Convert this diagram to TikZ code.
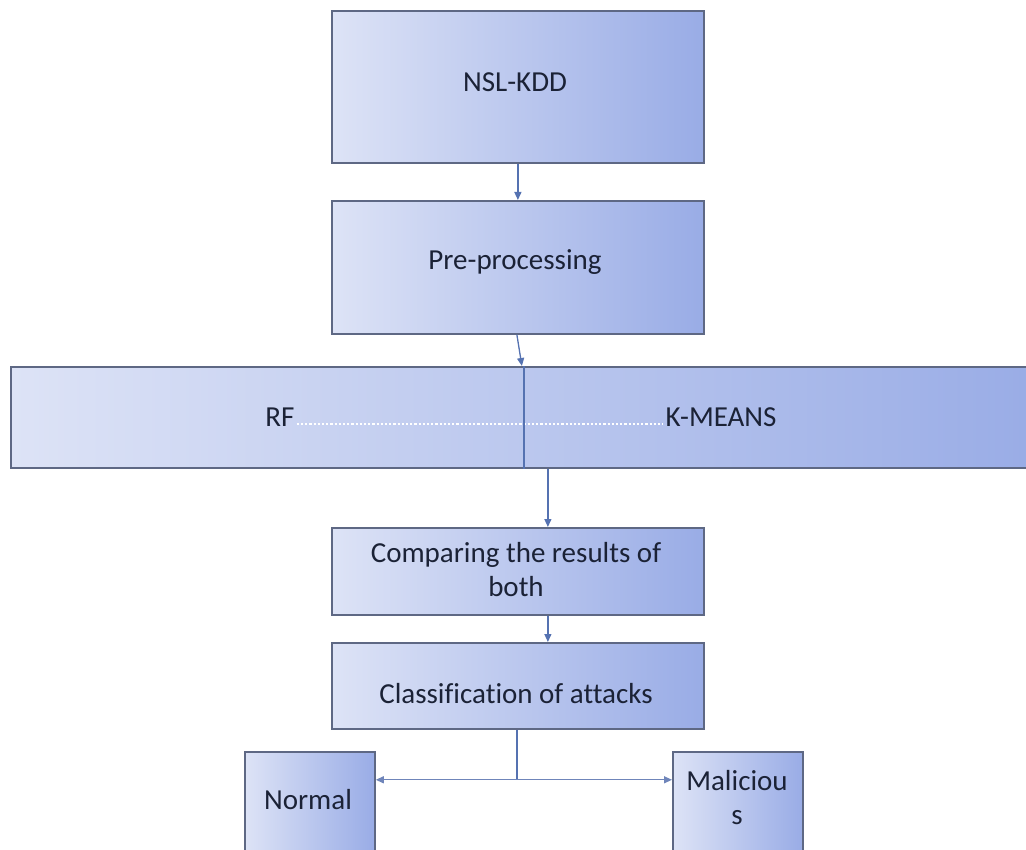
\documentclass[tikz,border=0pt]{standalone}
\usepackage{fontspec}
\setmainfont{Carlito}[Ligatures=NoCommon]
\usetikzlibrary{arrows.meta}
\definecolor{fillL}{HTML}{DDE3F6}
\definecolor{fillR}{HTML}{99ACE6}
\definecolor{frame}{HTML}{5E6884}
\definecolor{flowc}{HTML}{5572B1}
\definecolor{forkc}{HTML}{6F85BA}
\definecolor{ink}{HTML}{1B2236}

\begin{document}
\begin{tikzpicture}[x=1pt,y=-1pt,
  box/.style={draw=frame, line width=1.8pt, left color=fillL, right color=fillR,
    anchor=north west, inner sep=0pt},
  lbl/.style={anchor=base, inner sep=0pt, text=ink,
    font=\fontsize{29}{34.5}\selectfont, align=center},
  flow/.style={draw=flowc, line width=1.3pt, -{Triangle[length=8pt,width=7pt]}},
  plain/.style={draw=flowc, line width=1.3pt},
  fork/.style={draw=forkc, line width=1.3pt, -{Triangle[length=8pt,width=7pt]}},
]
\useasboundingbox (0,0) rectangle (1026,850);

% process boxes
\node[box, minimum width=372pt, minimum height=152pt] (nsl) at (331,10) {};
\node[box, minimum width=372pt, minimum height=133pt] (pre) at (331,200) {};
\node[box, minimum width=1030pt, minimum height=101pt] (bar) at (10,366) {};
\node[box, minimum width=372pt, minimum height=87pt] (cmp) at (331,527) {};
\node[box, minimum width=372pt, minimum height=86pt] (cls) at (331,642) {};
\node[box, minimum width=130pt, minimum height=130pt] (nrm) at (244,751) {};
\node[box, minimum width=130pt, minimum height=130pt] (mal) at (672,751) {};

% box texts
\node[lbl] (nslT) at (515,92) {NSL-KDD};
\node[lbl] (preT) at (515,270) {Pre-processing};
\node[lbl] (rf) at (280,427) {RF};
\node[lbl] (km) at (721,427) {K-MEANS};
\node[lbl, anchor=north] (cmpT) at (516,542) {Comparing the results of\\both};
\node[lbl] (clsT) at (516,703) {Classification of attacks};
\node[lbl] (nrmT) at (308,809) {Normal};
\node[lbl, anchor=north] (malT) at (737,770) {Maliciou\\s};

% dotted link between the two methods
\draw[white, line width=2.4pt, dash pattern=on 2.2pt off 2pt]
  ([xshift=2pt,yshift=3pt]rf.base east) -- ([xshift=-2pt,yshift=3pt]km.base west);

% connectors
\draw[flow] (nsl.south) -- (pre.north);
\draw[flow] ([xshift=-1pt]pre.south) -- ([xshift=-4pt]bar.north);
\draw[plain] ([xshift=-2pt]bar.north) -- ([xshift=-2pt]bar.south);
\draw[flow] ([xshift=22pt]bar.south) -- ([xshift=30pt]cmp.north);
\draw[flow] ([xshift=30pt]cmp.south) -- ([xshift=30pt]cls.north);
\coordinate (split) at ([xshift=-1pt,yshift=-50pt]cls.south);
\draw[plain] ([xshift=-1pt]cls.south) -- (split);
\draw[fork] (split) -- (nrm.east |- split);
\draw[fork] (split) -- (mal.west |- split);
\end{tikzpicture}
\end{document}
